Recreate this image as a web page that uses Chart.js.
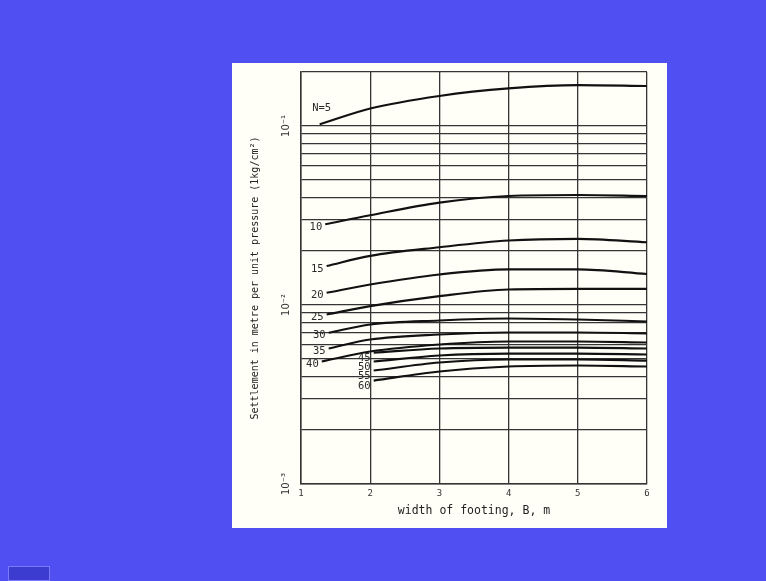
<!DOCTYPE html>
<html><head><meta charset="utf-8">
<script src="https://cdn.jsdelivr.net/npm/chart.js@4/dist/chart.umd.min.js"></script>
<style>
html,body{margin:0;padding:0;}
body{width:766px;height:581px;background:#5050f2;position:relative;overflow:hidden;}
#sheet{position:absolute;left:232px;top:63px;width:435px;height:465px;background:#fffff8;}
#btn{position:absolute;left:8px;top:566px;width:40px;height:13px;background:#3c3cd0;border:1px solid #7a7aff;}
canvas{position:absolute;left:0;top:0;}
</style></head><body>
<div id="sheet"></div><div id="btn"></div>
<canvas id="c" width="766" height="581"></canvas>
<script>
// ---- data ----
const curveLabels = ['N=5', '10', '15', '20', '25', '30', '35', '40', '45', '50', '55', '60'];
const curveStartB = [1.27, 1.35, 1.37, 1.37, 1.37, 1.4, 1.4, 1.3, 2.05, 2.05, 2.05, 2.05];
const widthsFrom2 = [2, 3, 4, 5, 6];
const widthsFrom3 = [3, 4, 5, 6];
// settlement per unit pressure: first value at curve start, then at the widths
const sN5  = [0.102, 0.125, 0.147, 0.162, 0.169, 0.167];
const sN10 = [0.0282, 0.0317, 0.0373, 0.0406, 0.0411, 0.0406];
const sN15 = [0.0165, 0.0188, 0.0210, 0.0229, 0.0234, 0.0224];
const sN20 = [0.0117, 0.0130, 0.0148, 0.0158, 0.0158, 0.0149];
const sN25 = [0.00885, 0.00985, 0.0112, 0.0122, 0.0123, 0.0123];
const sN30 = [0.0070, 0.00778, 0.00819, 0.0084, 0.00829, 0.00808];
const sN35 = [0.00571, 0.00641, 0.00684, 0.00702, 0.00702, 0.00693];
const sN40 = [0.00483, 0.00549, 0.00601, 0.00625, 0.00625, 0.00617];
const sN45 = [0.00542, 0.00571, 0.00578, 0.00578, 0.00571];
const sN50 = [0.00483, 0.00522, 0.00535, 0.00535, 0.00529];
const sN55 = [0.00430, 0.00477, 0.00496, 0.00496, 0.00489];
const sN60 = [0.00378, 0.00425, 0.00453, 0.00459, 0.00453];
const seriesValues = [sN5, sN10, sN15, sN20, sN25, sN30, sN35, sN40, sN45, sN50, sN55, sN60];

const xTickValues = [1, 2, 3, 4, 5, 6];
const xTickLabels = ['1', '2', '3', '4', '5', '6'];
const yTickValues = [0.1, 0.01, 0.001];
const yTickLabels = ['10\u207B\u00B9', '10\u207B\u00B2', '10\u207B\u00B3'];
const yMin = 0.001, yMax = 0.2;
const gridMantissas = [1, 2, 3, 4, 5, 6, 7, 8, 9];
const xTitle = 'width of footing, B, m';
const yTitle = 'Settlement in metre per unit pressure (1kg/cm\u00B2)';

// ---- build datasets ----
const datasets = seriesValues.map((vals, i) => {
  const xs = [curveStartB[i]].concat(vals.length === 6 ? widthsFrom2 : widthsFrom3);
  return {
    label: curveLabels[i],
    data: vals.map((v, k) => ({x: xs[k], y: v})),
    borderColor: '#111111',
    borderWidth: 2.1,
    pointRadius: 0,
    fill: false,
    tension: 0.4,
    cubicInterpolationMode: 'monotone'
  };
});

const curveLabelPlugin = {
  id: 'curveLabels',
  afterDatasetsDraw(chart) {
    const ctx = chart.ctx, xs = chart.scales.x, ys = chart.scales.y;
    ctx.save();
    ctx.font = '10.5px "DejaVu Sans Mono"';
    ctx.fillStyle = '#2a2a2a';
    ctx.textBaseline = 'middle';
    chart.data.datasets.forEach((ds, i) => {
      const p = ds.data[0];
      const px = xs.getPixelForValue(p.x), py = ys.getPixelForValue(p.y);
      if (i === 0) { ctx.textAlign = 'center'; ctx.fillText(ds.label, px + 2, py - 16); }
      else { ctx.textAlign = 'right'; ctx.fillText(ds.label, px - 3, py + (i >= 8 ? 6 : 3)); }
    });
    ctx.restore();
  }
};

const gridColor = '#353535';
new Chart(document.getElementById('c'), {
  type: 'line',
  data: {datasets},
  plugins: [curveLabelPlugin],
  options: {
    responsive: false,
    animation: false,
    layout: {padding: {left: 249, right: 119, top: 72, bottom: 63}},
    plugins: {legend: {display: false}, tooltip: {enabled: false}},
    scales: {
      x: {
        type: 'linear', min: 1, max: 6,
        afterFit(s) { s.height = 34; },
        afterBuildTicks(s) { s.ticks = xTickValues.map(v => ({value: v})); },
        grid: {color: gridColor, lineWidth: 1.3, drawTicks: false},
        border: {color: gridColor, width: 1.5},
        ticks: {
          padding: 4, color: '#333', font: {family: 'DejaVu Sans Mono', size: 9},
          callback: (v) => { const k = xTickValues.indexOf(v); return k >= 0 ? xTickLabels[k] : ''; }
        },
        title: {display: true, text: xTitle, color: '#222', padding: 0,
          font: {family: 'DejaVu Sans Mono', size: 11.5}}
      },
      y: {
        type: 'logarithmic', min: yMin, max: yMax,
        afterFit(s) { s.width = 52; },
        afterBuildTicks(s) {
          const t = [];
          for (let e = -3; e <= -1; e++) {
            for (const m of gridMantissas) {
              const v = +(m * Math.pow(10, e)).toPrecision(3);
              if (v <= yMax * 1.0000001) t.push({value: v});
            }
          }
          s.ticks = t;
        },
        grid: {color: gridColor, lineWidth: 1.3, drawTicks: false},
        border: {color: gridColor, width: 1.5},
        ticks: {
          autoSkip: false, minRotation: 90, maxRotation: 90, crossAlign: 'center', padding: 4,
          color: '#333', font: {family: 'DejaVu Sans', size: 10},
          callback: (v) => {
            const k = yTickValues.findIndex(t => Math.abs(v / t - 1) < 1e-6);
            return k >= 0 ? yTickLabels[k] : '';
          }
        },
        title: {display: true, text: yTitle, color: '#222', padding: 0,
          font: {family: 'DejaVu Sans Mono', size: 10}}
      }
    }
  }
});
</script>
</body></html>
